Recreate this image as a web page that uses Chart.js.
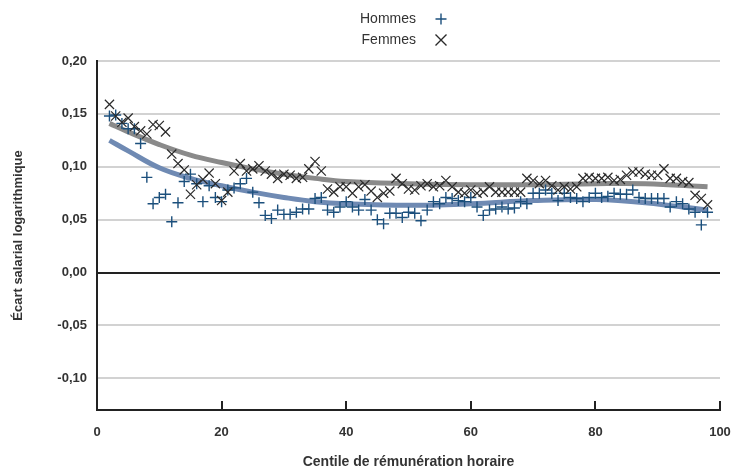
<!DOCTYPE html>
<html>
<head>
<meta charset="utf-8">
<script src="https://cdn.jsdelivr.net/npm/chart.js@4.4.1/dist/chart.umd.min.js"></script>
<style>
  html, body { margin: 0; padding: 0; background: #fff; }
  #wrap { width: 732px; height: 469px; position: relative; }
</style>
</head>
<body>
<div id="wrap"><canvas id="chart"></canvas></div>
<script>
// centiles de rémunération horaire
const centiles = [2, 3, 4, 5, 6, 7, 8, 9, 10, 11, 12, 13, 14, 15, 16, 17, 18, 19, 20,
  21, 22, 23, 24, 25, 26, 27, 28, 29, 30, 31, 32, 33, 34, 35, 36, 37, 38, 39, 40,
  41, 42, 43, 44, 45, 46, 47, 48, 49, 50, 51, 52, 53, 54, 55, 56, 57, 58, 59, 60,
  61, 62, 63, 64, 65, 66, 67, 68, 69, 70, 71, 72, 73, 74, 75, 76, 77, 78, 79, 80,
  81, 82, 83, 84, 85, 86, 87, 88, 89, 90, 91, 92, 93, 94, 95, 96, 97, 98];

const hommes = [0.148, 0.149, 0.141, 0.136, 0.136, 0.122, 0.090, 0.065, 0.071, 0.074,
  0.048, 0.066, 0.086, 0.093, 0.084, 0.067, 0.082, 0.071, 0.067, 0.078,
  0.080, 0.084, 0.089, 0.076, 0.066, 0.054, 0.051, 0.059, 0.055, 0.055,
  0.057, 0.060, 0.060, 0.070, 0.071, 0.059, 0.057, 0.062, 0.067, 0.062,
  0.059, 0.069, 0.059, 0.050, 0.046, 0.056, 0.056, 0.052, 0.057, 0.056,
  0.049, 0.059, 0.067, 0.065, 0.071, 0.070, 0.068, 0.067, 0.071, 0.062,
  0.054, 0.059, 0.060, 0.062, 0.060, 0.061, 0.067, 0.065, 0.075, 0.075,
  0.078, 0.075, 0.068, 0.075, 0.071, 0.070, 0.067, 0.071, 0.075, 0.071,
  0.072, 0.075, 0.074, 0.074, 0.078, 0.071, 0.070, 0.070, 0.070, 0.070,
  0.062, 0.067, 0.065, 0.060, 0.057, 0.045, 0.057];

const femmes = [0.159, 0.148, 0.142, 0.146, 0.138, 0.134, 0.131, 0.140, 0.139, 0.133,
  0.112, 0.103, 0.097, 0.074, 0.083, 0.088, 0.094, 0.084, 0.068, 0.076,
  0.096, 0.103, 0.096, 0.098, 0.101, 0.096, 0.093, 0.089, 0.093, 0.092,
  0.089, 0.090, 0.098, 0.105, 0.096, 0.079, 0.076, 0.081, 0.081, 0.075,
  0.081, 0.083, 0.077, 0.071, 0.075, 0.077, 0.089, 0.084, 0.079, 0.078,
  0.082, 0.084, 0.081, 0.082, 0.087, 0.081, 0.076, 0.075, 0.078, 0.075,
  0.076, 0.081, 0.076, 0.076, 0.076, 0.076, 0.076, 0.089, 0.087, 0.084,
  0.087, 0.082, 0.078, 0.081, 0.079, 0.081, 0.089, 0.090, 0.089, 0.089,
  0.090, 0.087, 0.088, 0.092, 0.095, 0.095, 0.093, 0.092, 0.092, 0.098,
  0.089, 0.089, 0.086, 0.085, 0.073, 0.070, 0.064];

// courbes de tendance
const trendX = [2, 5, 10, 15, 20, 25, 30, 35, 40, 50, 60, 70, 80, 88, 98];
const trendHommes = [0.125, 0.115, 0.099, 0.089, 0.082, 0.076, 0.071, 0.067, 0.065, 0.0635, 0.065, 0.068, 0.069, 0.066, 0.059];
const trendFemmes = [0.141, 0.133, 0.121, 0.111, 0.104, 0.098, 0.093, 0.089, 0.086, 0.084, 0.083, 0.083, 0.084, 0.084, 0.081];

const xTicks = [0, 20, 40, 60, 80, 100];
const yTicks = [-0.10, -0.05, 0.00, 0.05, 0.10, 0.15, 0.20];

const blueMark = "#1b4f7c";
const blackMark = "#2a2a2a";
const blueTrend = "#6f8ab3";
const greyTrend = "#8a8a8a";
const axisDark = "#222222";
const textCol = "#333333";
const FONT = "'Liberation Sans', Arial, sans-serif";

const pts = (xs, ys) => xs.map((x, i) => ({ x: x, y: ys[i] }));

// small tick marks pointing up from the x axis + legend on top
const extras = {
  id: "extras",
  afterDraw(chart) {
    const ctx = chart.ctx;
    const xs = chart.scales.x;
    const bottom = chart.chartArea.bottom;
    ctx.save();
    ctx.strokeStyle = axisDark;
    ctx.lineWidth = 2;
    xTicks.forEach(v => {
      if (v === 0) return;
      const px = Math.round(xs.getPixelForValue(v));
      ctx.beginPath();
      ctx.moveTo(px, bottom);
      ctx.lineTo(px, bottom - 9);
      ctx.stroke();
    });

    // legend
    ctx.font = "14px " + FONT;
    ctx.fillStyle = textCol;
    ctx.textAlign = "right";
    ctx.textBaseline = "middle";
    ctx.fillText("Hommes", 416, 19);
    ctx.fillText("Femmes", 416, 40);
    ctx.lineWidth = 1.4;
    ctx.strokeStyle = blueMark;
    ctx.beginPath();
    ctx.moveTo(441 - 5.5, 19); ctx.lineTo(441 + 5.5, 19);
    ctx.moveTo(441, 13.5); ctx.lineTo(441, 24.5);
    ctx.stroke();
    ctx.strokeStyle = blackMark;
    ctx.beginPath();
    ctx.moveTo(441 - 5.5, 34.5); ctx.lineTo(441 + 5.5, 45.5);
    ctx.moveTo(441 + 5.5, 34.5); ctx.lineTo(441 - 5.5, 45.5);
    ctx.stroke();
    ctx.restore();
  }
};

new Chart(document.getElementById("chart"), {
  type: "scatter",
  data: {
    datasets: [
      {
        label: "Hommes",
        data: pts(centiles, hommes),
        pointStyle: "cross",
        pointRadius: 5.5,
        pointHoverRadius: 5.5,
        borderColor: blueMark,
        backgroundColor: blueMark,
        pointBorderWidth: 1.4,
        order: 1
      },
      {
        label: "Femmes",
        data: pts(centiles, femmes),
        pointStyle: "crossRot",
        pointRadius: 6.5,
        pointHoverRadius: 6.5,
        borderColor: blackMark,
        backgroundColor: blackMark,
        pointBorderWidth: 1.2,
        order: 0
      },
      {
        type: "line",
        label: "Tendance Femmes",
        data: pts(trendX, trendFemmes),
        borderColor: greyTrend,
        borderWidth: 5,
        pointRadius: 0,
        tension: 0.4,
        fill: false,
        order: 3
      },
      {
        type: "line",
        label: "Tendance Hommes",
        data: pts(trendX, trendHommes),
        borderColor: blueTrend,
        borderWidth: 5,
        pointRadius: 0,
        tension: 0.4,
        fill: false,
        order: 2
      }
    ]
  },
  options: {
    responsive: true,
    maintainAspectRatio: false,
    animation: false,
    layout: { padding: { top: 61, right: 12, left: 0, bottom: 0 } },
    plugins: {
      legend: { display: false },
      tooltip: { enabled: false }
    },
    scales: {
      x: {
        type: "linear",
        min: 0,
        max: 100,
        afterBuildTicks: s => { s.ticks = xTicks.map(v => ({ value: v })); },
        afterFit: s => { s.height = 59; s.paddingLeft = 0; s.paddingRight = 0; },
        grid: { display: false, drawTicks: false },
        border: { display: true, color: axisDark, width: 2 },
        ticks: {
          padding: 15,
          color: textCol,
          font: { family: FONT, size: 13, weight: "bold" }
        },
        title: {
          display: true,
          text: "Centile de rémunération horaire",
          color: textCol,
          font: { family: FONT, size: 14, weight: "bold" },
          padding: { top: 0, bottom: -2 }
        }
      },
      y: {
        min: -0.13,
        max: 0.20,
        afterBuildTicks: s => { s.ticks = yTicks.map(v => ({ value: v })); },
        afterFit: s => { s.width = 97; },
        grid: {
          drawTicks: false,
          color: c => (Math.abs(c.tick.value) < 1e-9 ? axisDark : "#d2d2d2"),
          lineWidth: 2
        },
        border: { display: true, color: axisDark, width: 2 },
        ticks: {
          padding: 10,
          color: textCol,
          font: { family: FONT, size: 13, weight: "bold" },
          callback: v => v.toFixed(2).replace(".", ",")
        },
        title: {
          display: true,
          text: "Écart salarial logarithmique",
          color: textCol,
          font: { family: FONT, size: 13, weight: "bold" },
          padding: { top: 11, bottom: 0 }
        }
      }
    }
  },
  plugins: [extras]
});
</script>
</body>
</html>
